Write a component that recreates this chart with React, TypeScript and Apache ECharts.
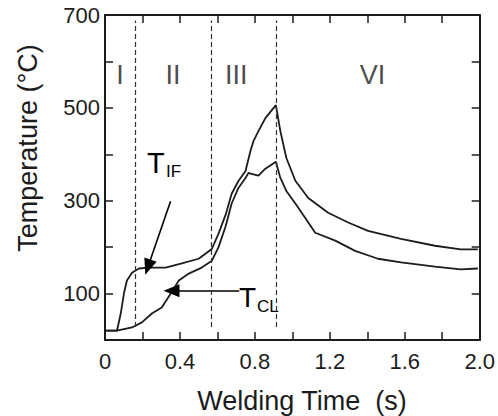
import React, { useEffect, useRef } from "react";
import * as echarts from "echarts";

// Temperature curves (time s, temperature °C)
const tIF: [number, number][] = [
  [0.005, 20], [0.064, 20], [0.084, 57], [0.101, 100], [0.117, 128], [0.144, 145],
  [0.181, 154], [0.234, 156], [0.324, 156], [0.41, 165], [0.5, 175], [0.57, 196],
  [0.606, 229], [0.644, 270], [0.676, 315], [0.713, 343], [0.75, 364], [0.777, 408],
  [0.793, 429], [0.819, 450], [0.856, 478], [0.912, 506], [0.936, 450], [0.968, 392],
  [1.016, 343], [1.085, 306], [1.191, 274], [1.298, 253], [1.404, 235], [1.58, 218],
  [1.761, 203], [1.899, 195], [1.99, 195],
];
const tCL: [number, number][] = [
  [0.005, 20], [0.064, 20], [0.144, 27], [0.197, 38], [0.25, 57], [0.303, 70],
  [0.351, 100], [0.394, 128], [0.447, 143], [0.516, 156], [0.569, 170], [0.606, 200],
  [0.644, 245], [0.676, 294], [0.713, 328], [0.75, 349], [0.766, 360], [0.782, 358],
  [0.819, 354], [0.856, 369], [0.912, 384], [0.936, 349], [0.968, 321], [1.016, 294],
  [1.069, 263], [1.122, 231], [1.229, 214], [1.335, 192], [1.457, 175], [1.58, 167],
  [1.761, 158], [1.899, 152], [1.99, 154],
];

// Stage boundaries (s)
const stageBounds = [0.16, 0.565, 0.915];
const stageNames = ["I", "II", "III", "VI"];

// Tick labels
const xTickLabels = ["0", "0.4", "0.8", "1.2", "1.6", "2.0"];
const yTickLabels = ["100", "300", "500", "700"];

// Arrows (from, to) in data coords
const arrowIF: [[number, number], [number, number]] = [[0.35, 299], [0.229, 157]];
const arrowCL: [[number, number], [number, number]] = [[0.716, 106], [0.355, 106]];

const tickFont = "'Liberation Sans', Arial, sans-serif";
const textFont = "'Liberation Sans', Arial, sans-serif";
const ink = "#1c1c1c";

export default function App() {
  const ref = useRef<HTMLDivElement>(null);
  useEffect(() => {
    if (!ref.current) return;
    const chart = echarts.init(ref.current, undefined, { renderer: "svg" });
    const xFmt = (v: number) => {
      const s = v === 0 ? "0" : v.toFixed(1);
      return xTickLabels.includes(s) ? s : "";
    };
    const yFmt = (v: number) => {
      const s = String(Math.round(v));
      return yTickLabels.includes(s) ? s : "";
    };
    const axisLine = { show: true, onZero: false, lineStyle: { color: ink, width: 2 } };
    const tick = { show: true, inside: true, length: 8, lineStyle: { color: ink, width: 1.5 } };
    const stageX = [
      stageBounds[0] / 2,
      (stageBounds[0] + stageBounds[1]) / 2,
      (stageBounds[1] + stageBounds[2]) / 2 - 0.04,
      (stageBounds[2] + 2.0) / 2 - 0.03,
    ];
    chart.setOption({
      animation: false,
      grid: { left: 105, top: 15, right: 16, bottom: 76 },
      xAxis: [
        {
          type: "value", min: 0, max: 2, interval: 0.2, position: "bottom",
          axisLine, axisTick: tick, splitLine: { show: false },
          axisLabel: {
            formatter: xFmt, margin: 10, color: ink, fontSize: 22, fontFamily: tickFont,
            showMinLabel: true, showMaxLabel: true,
          },
        },
        {
          type: "value", min: 0, max: 2, interval: 0.2, position: "top",
          axisLine, axisTick: tick, splitLine: { show: false }, axisLabel: { show: false },
        },
      ],
      yAxis: [
        {
          type: "value", min: 0, max: 700, interval: 100, position: "left",
          axisLine, axisTick: tick, splitLine: { show: false },
          axisLabel: {
            formatter: yFmt, margin: 5, color: ink, fontSize: 22, fontFamily: tickFont,
            showMinLabel: true, showMaxLabel: true,
          },
        },
        {
          type: "value", min: 0, max: 700, interval: 100, position: "right",
          axisLine, axisTick: tick, splitLine: { show: false }, axisLabel: { show: false },
        },
      ],
      series: [
        {
          name: "T_IF", type: "line", data: tIF, showSymbol: false, smooth: false,
          lineStyle: { color: ink, width: 1.8 }, silent: true,
          markLine: {
            silent: true, animation: false, label: { show: false },
            lineStyle: { color: "#000", width: 1.6, type: "solid" },
            data: [
              [
                { coord: arrowIF[0], symbol: "none" },
                { coord: arrowIF[1], symbol: "triangle", symbolSize: [13, 16] },
              ],
              [
                { coord: arrowCL[0], symbol: "none" },
                { coord: arrowCL[1], symbol: "triangle", symbolSize: [13, 16] },
              ],
            ],
          },
        },
        {
          name: "T_CL", type: "line", data: tCL, showSymbol: false, smooth: false,
          lineStyle: { color: ink, width: 1.8 }, silent: true,
          markLine: {
            silent: true, animation: false, label: { show: false }, symbol: "none",
            lineStyle: { color: "#333", width: 1.2, type: [5, 3] },
            data: stageBounds.map((b) => [{ coord: [b, 28] }, { coord: [b, 688] }]),
          },
        },
        {
          name: "stages", type: "scatter", silent: true, symbolSize: 0,
          data: stageNames.map((n, i) => ({ value: [stageX[i], 570], name: n })),
          label: {
            show: true, position: "inside", formatter: (p: any) => p.name,
            color: ink, fontSize: 27, fontFamily: textFont,
          },
        },
      ],
      graphic: [
        {
          type: "text", x: 302, y: 401,
          style: {
            text: "Welding Time  (s)", fill: ink, font: `27px ${textFont}`,
            align: "center", verticalAlign: "middle",
          },
        },
        {
          type: "text", x: 28, y: 148, rotation: Math.PI / 2,
          style: {
            text: "Temperature (°C)", fill: ink, font: `27px ${textFont}`,
            align: "center", verticalAlign: "middle",
          },
        },
        {
          type: "text", x: 147, y: 163,
          style: { text: "T", fill: "#000", font: `29px ${textFont}`, align: "left", verticalAlign: "middle" },
        },
        {
          type: "text", x: 166, y: 171,
          style: { text: "IF", fill: "#000", font: `17px ${textFont}`, align: "left", verticalAlign: "middle" },
        },
        {
          type: "text", x: 239, y: 297,
          style: { text: "T", fill: "#000", font: `28px ${textFont}`, align: "left", verticalAlign: "middle" },
        },
        {
          type: "text", x: 257, y: 306,
          style: { text: "CL", fill: "#000", font: `17px ${textFont}`, align: "left", verticalAlign: "middle" },
        },
      ],
    });
    return () => chart.dispose();
  }, []);
  return (
    <div
      ref={ref}
      style={{ position: "absolute", left: 0, top: 0, width: 498, height: 416, background: "#fff" }}
    />
  );
}
